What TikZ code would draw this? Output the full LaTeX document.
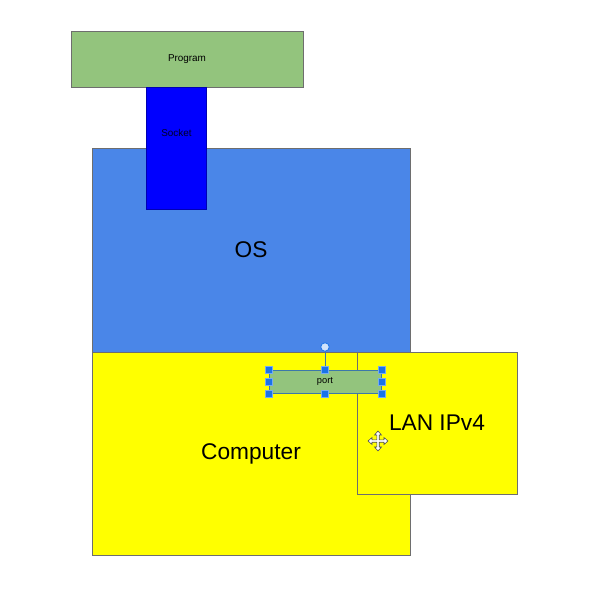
\documentclass[tikz,border=0pt]{standalone}
\usepackage{tikz}
\usepackage{fontspec}
\setmainfont{Liberation Sans}
\usetikzlibrary{arrows,shapes}
\definecolor{progGreen}{RGB}{147,196,125}
\definecolor{osBlue}{RGB}{74,134,232}
\definecolor{sockBlue}{RGB}{0,0,255}
\definecolor{compYellow}{RGB}{255,255,0}
\definecolor{edgeGray}{RGB}{110,110,110}
\definecolor{handleBlue}{RGB}{26,115,232}
\definecolor{selLine}{RGB}{60,120,170}
\tikzstyle{block}=[rectangle,draw=edgeGray,line width=0.8pt,inner sep=0pt]
\tikzstyle{bigtext}=[font=\fontsize{22.7}{26}\selectfont]
\tikzstyle{smalltext}=[font=\fontsize{9.9}{12}\selectfont]
\tikzstyle{handle}=[rectangle,fill=handleBlue,draw=handleBlue!60,line width=0.5pt,minimum size=7pt,inner sep=0pt]

\begin{document}
\begin{tikzpicture}[x=1pt,y=-1pt]
    \useasboundingbox (0,0) rectangle (590,611);
    % First we draw the big boxes
    \node[block,fill=osBlue,minimum width=318pt,minimum height=204pt] (os) at (251,250) {};
    \node[bigtext] (oslabel) at (os.center) {OS};
    \node[block,fill=compYellow,minimum width=318pt,minimum height=203pt] (computer) at (251,453.5) {};
    \node[bigtext] (complabel) at (computer.center) {Computer};
    \node[block,fill=compYellow,minimum width=160pt,minimum height=142pt] (lan) at (437,423) {};
    \node[bigtext] (lanlabel) at (lan.center) {LAN IPv4};

    % Program and socket on top
    \node[block,fill=progGreen,minimum width=232pt,minimum height=56pt,smalltext] (program) at (187,59) {Program};
    \node[block,draw=sockBlue!70!black,fill=sockBlue,minimum width=60pt,minimum height=122pt] (socket) at (176,148) {};
    \node[smalltext,text=black!85!blue] (socklabel) at (176.5,133) {Socket};

    % The selected port with its handles
    \node[rectangle,draw=selLine,line width=0.9pt,fill=progGreen,minimum width=112pt,minimum height=23pt,inner sep=0pt,font=\fontsize{9.3}{11}\selectfont] (port) at (325,381.5) {port};
    \coordinate (rot) at (325,347);
    \draw[selLine,line width=0.9pt] (port.north) -- (rot);
    \node[circle,draw=handleBlue,fill=handleBlue!20,line width=0.8pt,minimum size=8.5pt,inner sep=0pt] (rothandle) at (rot) {};
    \foreach \anc in {north west, north, north east, east, south east, south, south west, west}
        \node[handle] at (port.\anc) {};

    % Move cursor
    \begin{scope}[shift={(378,441)}]
        \filldraw[fill=white,draw=black!70,line width=0.6pt,line join=miter]
            (0,-10) -- (3.5,-6) -- (1.2,-6) -- (1.2,-1.2) -- (6,-1.2) -- (6,-3.5) -- (10,0)
            -- (6,3.5) -- (6,1.2) -- (1.2,1.2) -- (1.2,6) -- (3.5,6) -- (0,10)
            -- (-3.5,6) -- (-1.2,6) -- (-1.2,1.2) -- (-6,1.2) -- (-6,3.5) -- (-10,0)
            -- (-6,-3.5) -- (-6,-1.2) -- (-1.2,-1.2) -- (-1.2,-6) -- (-3.5,-6) -- cycle;
    \end{scope}
\end{tikzpicture}
\end{document}
